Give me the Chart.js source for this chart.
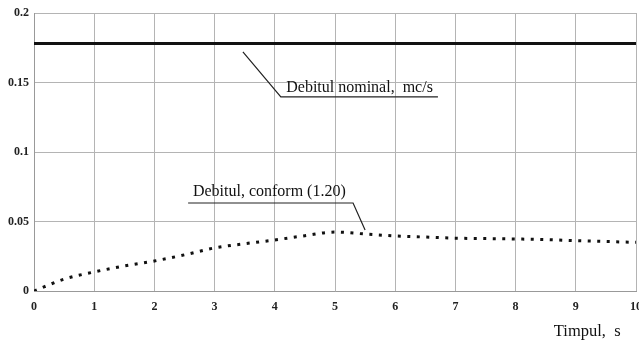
<!DOCTYPE html>
<html>
<head>
<meta charset="utf-8">
<script src="https://cdn.jsdelivr.net/npm/chart.js@4"></script>
<style>
  html, body { margin: 0; padding: 0; background: #fff; }
  #wrap { width: 639px; height: 346px; }
</style>
</head>
<body>
<div id="wrap"><canvas id="debit"></canvas></div>
<script>
// ================= data =================
const timp = [0, 0.5, 1, 1.5, 2, 2.5, 3, 3.5, 4, 4.5, 5, 5.5, 6, 6.5, 7, 7.5, 8, 8.5, 9, 9.5, 10]
const debitConform = [0, 0.0085, 0.0137, 0.018, 0.0216, 0.026, 0.031, 0.034, 0.0367, 0.0398, 0.0424, 0.041, 0.0396, 0.0388, 0.038, 0.0377, 0.0374, 0.037, 0.0362, 0.0356, 0.035]
const debitNominal = 0.178
const xTicks = [0, 1, 2, 3, 4, 5, 6, 7, 8, 9, 10]
const yTicks = [0, 0.05, 0.1, 0.15, 0.2]

const serif = "'Liberation Serif', 'Times New Roman', serif"

// labels with leader lines, placed in data units
const labelsPlugin = {
  id: "leaders",
  afterDatasetsDraw(chart) {
    const ctx = chart.ctx
    const x = chart.scales.x, y = chart.scales.y
    const px = v => x.getPixelForValue(v), py = v => y.getPixelForValue(v)
    ctx.save()
    ctx.strokeStyle = "#222"
    ctx.lineWidth = 1.2
    ctx.fillStyle = "#111"
    ctx.font = "16px " + serif
    ctx.textBaseline = "alphabetic"

    // Debitul nominal
    ctx.beginPath()
    ctx.moveTo(px(3.47), py(0.172))
    ctx.lineTo(px(4.1), py(0.1396))
    ctx.lineTo(px(6.71), py(0.1396))
    ctx.stroke()
    ctx.textAlign = "left"
    ctx.fillText("Debitul nominal,  mc/s", px(4.19), py(0.1396) - 5)

    // Debitul conform
    ctx.beginPath()
    ctx.moveTo(px(2.56), py(0.0633))
    ctx.lineTo(px(5.3), py(0.0633))
    ctx.lineTo(px(5.5), py(0.0439))
    ctx.stroke()
    ctx.fillText("Debitul, conform (1.20)", px(2.64), py(0.0633) - 7)

    // axis title
    ctx.font = "16.5px " + serif
    ctx.textAlign = "center"
    ctx.fillText("Timpul,  s", px(9.19), chart.chartArea.bottom + 45)
    ctx.restore()
  }
}

const myDebit = document.getElementById("debit")
let debitChart = new Chart(myDebit, {
  type: "line",
  data: {
    datasets: [{
      label: "Debitul nominal",
      data: [{x: 0, y: debitNominal}, {x: 10, y: debitNominal}],
      borderColor: "#111",
      borderWidth: 3,
      pointRadius: 0
    }, {
      label: "Debitul, conform (1.20)",
      data: timp.map((t, i) => ({x: t, y: debitConform[i]})),
      borderColor: "#111",
      borderWidth: 3,
      borderDash: [3, 6.5],
      borderCapStyle: "butt",
      cubicInterpolationMode: "monotone",
      pointRadius: 0
    }]
  },
  options: {
    responsive: true,
    maintainAspectRatio: false,
    animation: false,
    layout: { padding: { left: 0, right: 3, top: 13, bottom: 0 } },
    plugins: { legend: { display: false }, tooltip: { enabled: false } },
    scales: {
      x: {
        type: "linear",
        min: 0, max: 10,
        afterBuildTicks: s => { s.ticks = xTicks.map(v => ({value: v})) },
        afterFit: s => { s.height = 55; s.paddingLeft = 0; s.paddingRight = 0 },
        grid: { color: "#b4b4b4", lineWidth: 1, drawTicks: false },
        border: { color: "#999", width: 1 },
        ticks: { padding: 9, maxRotation: 0, color: "#222", font: { family: serif, size: 12, weight: "bold" } }
      },
      y: {
        min: 0, max: 0.2,
        afterBuildTicks: s => { s.ticks = yTicks.map(v => ({value: v})) },
        afterFit: s => { s.width = 34 },
        grid: { color: "#b4b4b4", lineWidth: 1, drawTicks: false },
        border: { color: "#999", width: 1 },
        ticks: { padding: 5, color: "#222", font: { family: serif, size: 12, weight: "bold" },
                 callback: v => String(+v.toFixed(2)) }
      }
    }
  },
  plugins: [labelsPlugin]
})
</script>
</body>
</html>
